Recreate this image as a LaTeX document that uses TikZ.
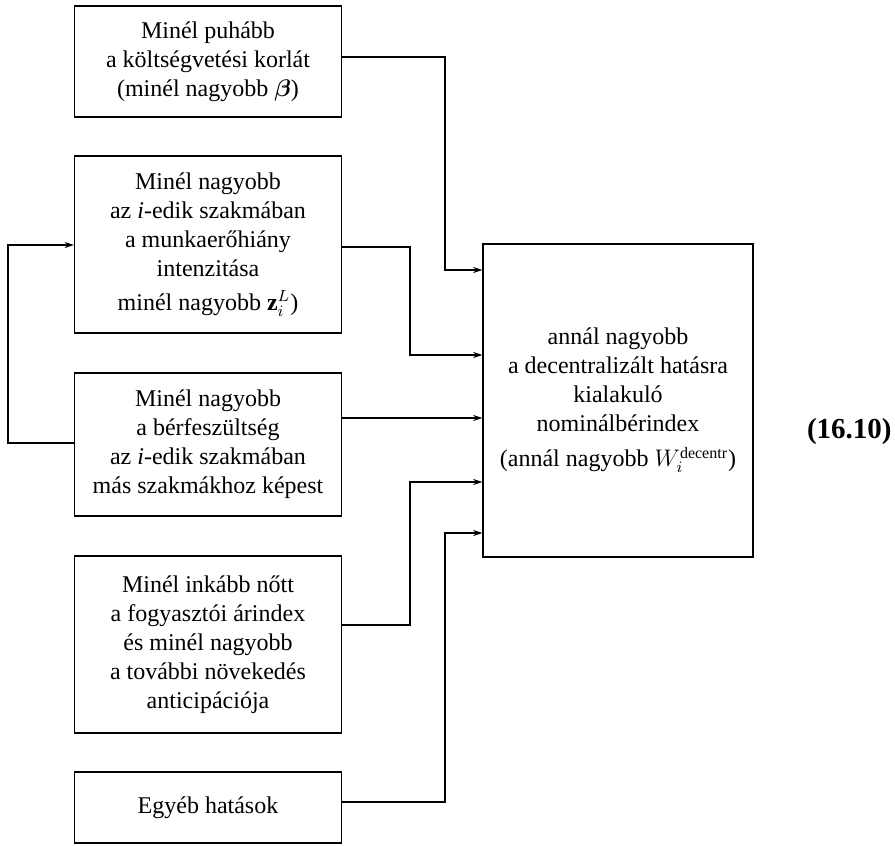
\documentclass[tikz,border=0pt]{standalone}
\usepackage{amsmath}
\usepackage{fontspec}
\setmainfont{Liberation Serif}
\usetikzlibrary{arrows.meta, positioning}

\begin{document}
\begin{tikzpicture}[
    x=0.5pt, y=-0.5pt,
    block/.style={rectangle, draw, line width=0.7pt, align=center, minimum width=133.5pt, font=\fontsize{12}{14.5}\selectfont},
    arrow/.style={-{Stealth[length=4.5pt, width=3pt]}, line width=0.7pt},
    eqlabel/.style={font=\fontsize{14.5}{17}\selectfont\bfseries, anchor=east, inner sep=1pt}
]
\useasboundingbox (0,0) rectangle (895,846);

\node[block, minimum height=55.5pt] (budget) at (208,61.5) {Minél puhább\\a költségvetési korlát\\(minél nagyobb $\boldsymbol{\beta}$)};
\node[block, minimum height=88.5pt] (shortage) at (208,244.5) {Minél nagyobb\\az \textit{i}-edik szakmában\\a munkaerőhiány\\intenzitása\\[2.5pt]minél nagyobb $\mathbf{z}_i^L$)};
\node[block, minimum height=71.5pt] (tension) at (208,444.5) {Minél nagyobb\\a bérfeszültség\\az \textit{i}-edik szakmában\\más szakmákhoz képest};
\node[block, minimum height=88.5pt] (prices) at (208,644.5) {Minél inkább nőtt\\a fogyasztói árindex\\és minél nagyobb\\a további növekedés\\anticipációja};
\node[block, minimum height=35.5pt] (other) at (208,807.5) {Egyéb hatások};

\node[block, minimum width=135pt, minimum height=156.5pt] (wage) at (618,400.5) {annál nagyobb\\a decentralizált hatásra\\kialakuló\\nominálbérindex\\[3pt](annál nagyobb $W_i^{\text{decentr}}$)};
\node[eqlabel] (eqno) at (894,432) {(16.10)};

% inputs to the wage index
\draw[arrow] (budget.east |- 0,57) -| (445,270) -- (wage.west |- 0,270);
\draw[arrow] (shortage.east |- 0,247) -| (410,355) -- (wage.west |- 0,355);
\draw[arrow] (tension.east |- 0,418) -- (wage.west |- 0,418);
\draw[arrow] (prices.east |- 0,625) -| (410,482) -- (wage.west |- 0,482);
\draw[arrow] (other.east |- 0,802) -| (445,533) -- (wage.west |- 0,533);

% feedback loop
\draw[arrow] (tension.west |- 0,443) -| (8,245) -- (shortage.west |- 0,245);

\end{tikzpicture}
\end{document}
